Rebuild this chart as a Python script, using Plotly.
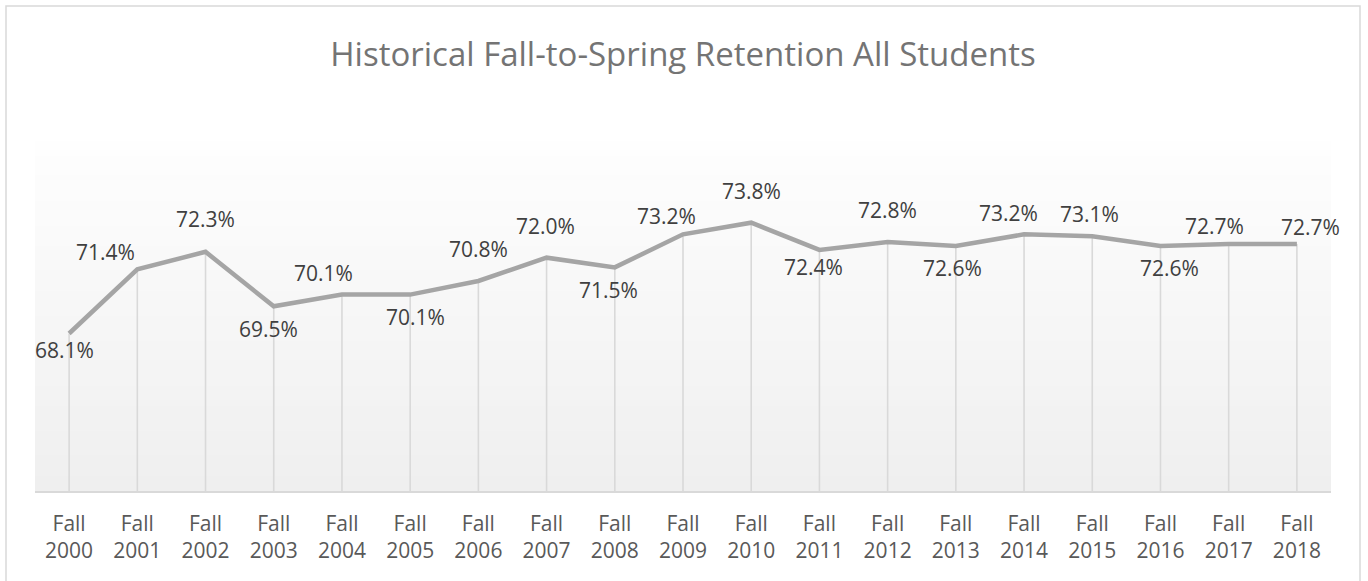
import plotly.graph_objects as go

# ---- data ----
years = ["2000", "2001", "2002", "2003", "2004", "2005", "2006", "2007", "2008", "2009",
         "2010", "2011", "2012", "2013", "2014", "2015", "2016", "2017", "2018"]
retention = [68.1, 71.4, 72.3, 69.5, 70.1, 70.1, 70.8, 72.0, 71.5, 73.2,
             73.8, 72.4, 72.8, 72.6, 73.2, 73.1, 72.6, 72.7, 72.7]
tick_labels = ["Fall<br>" + y for y in years]
title_text = "Historical Fall-to-Spring Retention All Students"

# ---- style: label offsets (screen px; dy positive = downward) ----
label_dx = [-5, -32, 0, -5, -18, 5, 0, -1, -6, -17, 0, -6, 0, -3, -16, -3, 9, -14, 14]
label_dy = [17, -16, -32, 24, -21, 23, -31, -31, 24, -17, -31, 18, -31, 23, -20, -21, 23, -17, -16]

W, H = 1368, 581
ML, MR, MT, MB = 35, 37, 141, 90
Y_MIN, Y_MAX = 60, 78
FONT = "Open Sans"

idx = list(range(len(years)))

fig = go.Figure()

# drop lines (drawn first so they sit under the series line)
fig.add_trace(go.Scatter(
    x=idx, y=retention, mode="markers",
    marker=dict(size=1, color="rgba(0,0,0,0)"),
    error_y=dict(type="data", symmetric=False, array=[0] * len(retention),
                 arrayminus=[v - Y_MIN for v in retention],
                 color="#d9d9d9", thickness=1.6, width=0),
    hoverinfo="skip", showlegend=False,
))

# series line
fig.add_trace(go.Scatter(
    x=idx, y=retention, mode="lines",
    line=dict(color="#a5a5a5", width=4.5),
    showlegend=False,
))

# data labels
annotations = []
for i, v in enumerate(retention):
    annotations.append(dict(
        x=i, y=v, xref="x", yref="y", text=f"{v:.1f}%", showarrow=False,
        xshift=label_dx[i], yshift=-label_dy[i] + 1,
        font=dict(family=FONT, size=21, color="#404040"),
        xanchor="center", yanchor="middle",
    ))

# gradient background of the plot area
shapes = []
N = 70
top_c = (254, 254, 254)
bot_c = (239, 239, 239)
for k in range(N):
    t = k / (N - 1)
    c = tuple(round(top_c[j] + (bot_c[j] - top_c[j]) * t) for j in range(3))
    y1 = 1 - k / N
    y0 = 1 - (k + 1) / N
    shapes.append(dict(type="rect", xref="x domain", yref="y domain",
                       x0=0, x1=1, y0=y0, y1=y1 + 0.0005,
                       fillcolor=f"rgb{c}", line=dict(width=0), layer="below"))

# outer chart border
pw = W - ML - MR
ph = H - MT - MB
def px_x(p):
    return (p - ML) / pw
def px_y(p):
    return 1 - (p - MT) / ph
shapes.append(dict(type="rect", xref="paper", yref="paper",
                   x0=px_x(6), x1=px_x(1360), y0=px_y(640), y1=px_y(6),
                   line=dict(color="#d9d9d9", width=1.5), fillcolor="rgba(0,0,0,0)",
                   layer="below"))

fig.update_layout(
    width=W, height=H,
    margin=dict(l=ML, r=MR, t=MT, b=MB, pad=0),
    paper_bgcolor="white", plot_bgcolor="rgba(0,0,0,0)",
    title=dict(text=title_text, x=0.5, xref="paper", xanchor="center",
               y=1 - 54 / H, yref="container", yanchor="middle",
               font=dict(family=FONT, size=33, color="#747474")),
    annotations=annotations,
    shapes=shapes,
    xaxis=dict(range=[-0.5, len(years) - 0.5], tickvals=idx, ticktext=tick_labels,
               showgrid=False, zeroline=False, showline=True, linecolor="#d9d9d9",
               linewidth=1.6, ticks="", ticklabelstandoff=13,
               tickfont=dict(family=FONT, size=21, color="#595959")),
    yaxis=dict(range=[Y_MIN, Y_MAX], visible=False, showgrid=False, zeroline=False),
    font=dict(family=FONT),
)

fig.write_html("out.html", config={"displayModeBar": False},
               post_script="document.body.style.margin='0';")
